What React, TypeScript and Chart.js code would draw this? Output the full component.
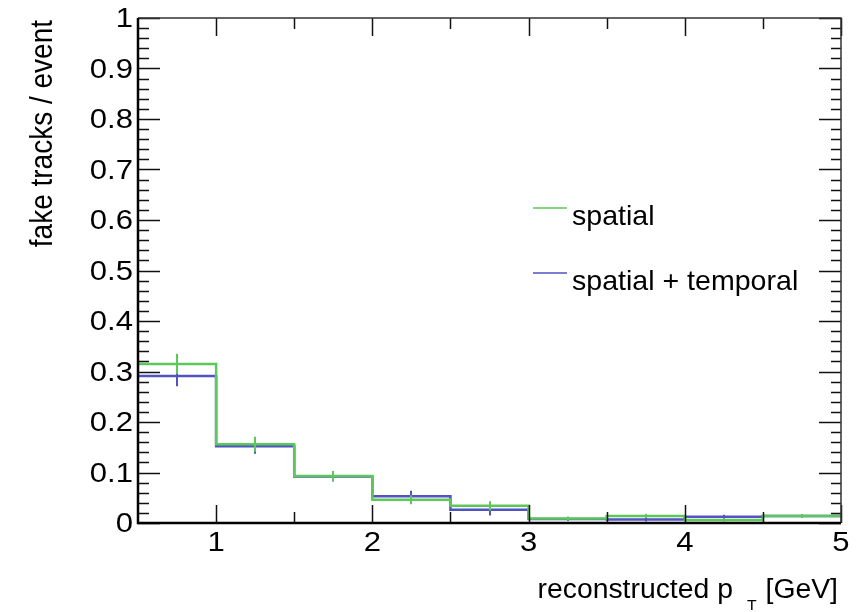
import React, { useEffect, useRef } from 'react';
import { Chart, registerables } from 'chart.js';

Chart.register(...registerables);

// ---- data ----
const binEdges = [0.5, 1, 1.5, 2, 2.5, 3, 3.5, 4, 4.5, 5];
const spatialValues = [0.315, 0.156, 0.093, 0.046, 0.034, 0.009, 0.014, 0.006, 0.014];
const spatialErrors = [0.02, 0.015, 0.01, 0.009, 0.009, 0.004, 0.004, 0.003, 0.004];
const temporalValues = [0.291, 0.152, 0.092, 0.053, 0.026, 0.008, 0.007, 0.0125, 0.014];
const temporalErrors = [0.02, 0.015, 0.01, 0.011, 0.011, 0.004, 0.004, 0.004, 0.004];
const seriesLabels = ['spatial', 'spatial + temporal'];
const xTickValues = [1, 2, 3, 4, 5];
const xTickLabels = ['1', '2', '3', '4', '5'];
const yTickValues = [0, 0.1, 0.2, 0.3, 0.4, 0.5, 0.6, 0.7, 0.8, 0.9, 1];
const yTickLabels = ['0', '0.1', '0.2', '0.3', '0.4', '0.5', '0.6', '0.7', '0.8', '0.9', '1'];
const xTitleParts = ['reconstructed p', 'T', '[GeV]'];
const yTitle = 'fake tracks / event';

const GREEN = '#5cc85a';
const BLUE = '#5252c2';
const FONT = '"Liberation Sans", Arial, Helvetica, sans-serif';
const SX_TICK = 1.15;
const SX_TITLE = 1.05;

const stepPoints = (values: number[]) =>
  binEdges.map((e, i) => ({ x: e, y: values[Math.min(i, values.length - 1)] }));

const errorSets = [
  { values: spatialValues, errors: spatialErrors },
  { values: temporalValues, errors: temporalErrors },
];

const errorBarPlugin = {
  id: 'errorBars',
  afterDatasetDraw(chart: any, args: any) {
    const set = errorSets[args.index];
    if (!set) return;
    const { ctx, chartArea } = chart;
    const xs = chart.scales.x;
    const ys = chart.scales.y;
    const color = chart.data.datasets[args.index].borderColor;
    ctx.save();
    ctx.beginPath();
    ctx.rect(chartArea.left, chartArea.top, chartArea.right - chartArea.left, chartArea.bottom - chartArea.top);
    ctx.clip();
    ctx.strokeStyle = color;
    ctx.lineWidth = 2;
    set.values.forEach((v, i) => {
      const c = (binEdges[i] + binEdges[i + 1]) / 2;
      const px = Math.round(xs.getPixelForValue(c));
      ctx.beginPath();
      ctx.moveTo(px, ys.getPixelForValue(v - set.errors[i]));
      ctx.lineTo(px, ys.getPixelForValue(v + set.errors[i]));
      ctx.stroke();
    });
    ctx.restore();
  },
};

function scaledText(ctx: any, text: string, x: number, y: number, sx: number, align: string, baseline: string) {
  ctx.save();
  ctx.translate(x, y);
  ctx.scale(sx, 1);
  ctx.textAlign = align;
  ctx.textBaseline = baseline;
  ctx.fillText(text, 0, 0);
  ctx.restore();
}

const framePlugin = {
  id: 'rootFrame',
  afterDraw(chart: any) {
    const { ctx, chartArea } = chart;
    const { left, right, top, bottom } = chartArea;
    const xs = chart.scales.x;
    const ys = chart.scales.y;
    ctx.save();
    // ticks
    ctx.strokeStyle = '#111';
    ctx.lineWidth = 1.5;
    for (let k = 0; k <= 50; k++) {
      const v = k * 0.02;
      const py = Math.round(ys.getPixelForValue(v)) + 0.5;
      const major = k % 5 === 0;
      const len = major ? 22 : 11;
      ctx.beginPath();
      ctx.moveTo(left, py);
      ctx.lineTo(left + len, py);
      ctx.moveTo(right, py);
      ctx.lineTo(right - (major ? 22 : 10), py);
      ctx.stroke();
    }
    for (let k = 1; k <= 9; k++) {
      const v = 0.5 + k * 0.5;
      const px = Math.round(xs.getPixelForValue(v)) + 0.5;
      const major = Math.abs(v - Math.round(v)) < 1e-9;
      const len = major ? 18 : 11;
      ctx.beginPath();
      ctx.moveTo(px, bottom);
      ctx.lineTo(px, bottom - len);
      ctx.moveTo(px, top);
      ctx.lineTo(px, top + len);
      ctx.stroke();
    }
    // frame
    ctx.strokeStyle = '#333';
    ctx.lineWidth = 1.5;
    ctx.beginPath();
    ctx.moveTo(left, top);
    ctx.lineTo(right, top);
    ctx.lineTo(right, bottom);
    ctx.stroke();
    ctx.strokeStyle = '#000';
    ctx.lineWidth = 2.5;
    ctx.beginPath();
    ctx.moveTo(left, top);
    ctx.lineTo(left, bottom);
    ctx.lineTo(right, bottom);
    ctx.stroke();

    ctx.fillStyle = '#000';
    // tick labels
    ctx.font = `27px ${FONT}`;
    yTickValues.forEach((v, i) => {
      scaledText(ctx, yTickLabels[i], left - 5, ys.getPixelForValue(v) + 2, SX_TICK, 'right', 'middle');
    });
    xTickValues.forEach((v, i) => {
      scaledText(ctx, xTickLabels[i], xs.getPixelForValue(v), bottom + 21, SX_TICK, 'center', 'middle');
    });

    // y title (rotated, end aligned at top)
    ctx.save();
    ctx.translate(52, top + 2);
    ctx.rotate(-Math.PI / 2);
    ctx.scale(1, 1.15);
    ctx.font = `28px ${FONT}`;
    ctx.textAlign = 'right';
    ctx.textBaseline = 'alphabetic';
    ctx.fillText(yTitle, 0, 0);
    ctx.restore();

    // x title with subscript
    ctx.font = `27px ${FONT}`;
    const endX = right - 3;
    const base = 598;
    scaledText(ctx, xTitleParts[2], endX, base, SX_TITLE, 'right', 'alphabetic');
    const w3 = ctx.measureText(xTitleParts[2]).width * SX_TITLE;
    ctx.font = `15px ${FONT}`;
    const tRight = endX - w3 - 9;
    scaledText(ctx, xTitleParts[1], tRight, base + 12, SX_TITLE, 'right', 'alphabetic');
    const wT = ctx.measureText(xTitleParts[1]).width * SX_TITLE;
    ctx.font = `27px ${FONT}`;
    scaledText(ctx, xTitleParts[0], tRight - wT - 14, base, SX_TITLE, 'right', 'alphabetic');

    // legend
    ctx.font = `28px ${FONT}`;
    const rows = [
      { y: 208, base: 225 },
      { y: 273, base: 290 },
    ];
    chart.data.datasets.forEach((ds: any, i: number) => {
      const r = rows[i];
      ctx.strokeStyle = ds.borderColor;
      ctx.lineWidth = 1.5;
      ctx.beginPath();
      ctx.moveTo(533, r.y);
      ctx.lineTo(567, r.y);
      ctx.stroke();
      ctx.fillStyle = '#000';
      scaledText(ctx, ds.label, 572, r.base, 1.02, 'left', 'alphabetic');
    });
    ctx.restore();
  },
};

export default function App() {
  const ref = useRef<HTMLCanvasElement | null>(null);
  useEffect(() => {
    if (!ref.current) return;
    Chart.defaults.font.family = FONT;
    Chart.defaults.color = '#000';
    const chart = new Chart(ref.current, {
      type: 'line',
      data: {
        datasets: [
          {
            label: seriesLabels[0],
            data: stepPoints(spatialValues),
            borderColor: GREEN,
            borderWidth: 2.5,
            stepped: 'before',
            pointRadius: 0,
            fill: false,
          },
          {
            label: seriesLabels[1],
            data: stepPoints(temporalValues),
            borderColor: BLUE,
            borderWidth: 2.5,
            stepped: 'before',
            pointRadius: 0,
            fill: false,
          },
        ],
      },
      options: {
        animation: false,
        responsive: false,
        devicePixelRatio: 1,
        layout: { padding: { top: 18, right: 26, left: 0, bottom: 0 } },
        plugins: { legend: { display: false }, tooltip: { enabled: false } },
        scales: {
          x: {
            type: 'linear',
            min: 0.5,
            max: 5,
            grid: { display: false, drawTicks: false },
            border: { display: false },
            afterBuildTicks: (s: any) => {
              s.ticks = xTickValues.map((v) => ({ value: v }));
            },
            afterFit: (s: any) => {
              s.height = 89;
            },
            ticks: { display: false },
          },
          y: {
            type: 'linear',
            min: 0,
            max: 1,
            grid: { display: false, drawTicks: false },
            border: { display: false },
            afterBuildTicks: (s: any) => {
              s.ticks = yTickValues.map((v) => ({ value: v }));
            },
            afterFit: (s: any) => {
              s.width = 138;
            },
            ticks: { display: false },
          },
        },
      },
      plugins: [errorBarPlugin, framePlugin],
    } as any);
    return () => chart.destroy();
  }, []);
  return (
    <div style={{ position: 'absolute', left: 0, top: 0, width: 867, height: 612, background: '#fff' }}>
      <canvas ref={ref} width={867} height={612} style={{ display: 'block' }} />
    </div>
  );
}
